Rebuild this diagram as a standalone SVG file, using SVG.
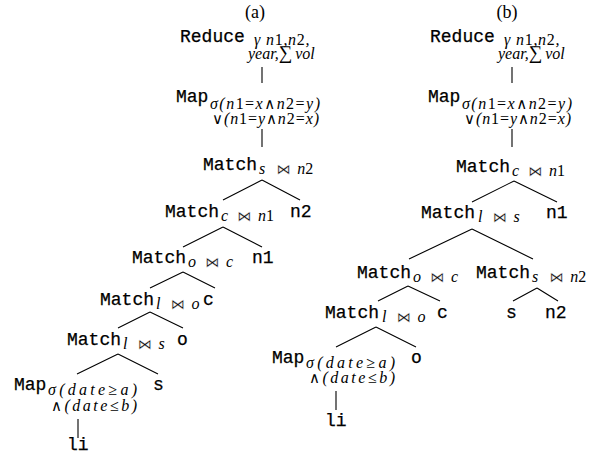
<svg xmlns="http://www.w3.org/2000/svg" width="607" height="456" viewBox="0 0 607 456">
<style>
.t{font-family:"Liberation Mono","DejaVu Sans Mono",monospace;font-size:18px;fill:#000;stroke:#000;stroke-width:0.25}
.m{font-family:"Liberation Serif","DejaVu Serif",serif;font-size:16px;font-style:italic;fill:#000}
.s1{letter-spacing:0.7px}
.u{font-style:normal}
.w{font-style:normal;font-family:"DejaVu Serif",serif;font-size:15px}
.big{font-style:normal;font-size:19px}
.r{font-style:normal;font-family:"DejaVu Sans",sans-serif;font-size:14px;stroke:#fff;stroke-width:0.3}
.lab{font-family:"Liberation Serif","DejaVu Serif",serif;font-size:18px;text-anchor:middle;fill:#000}
.e{stroke:#000;stroke-width:1.1;fill:none}
</style>
<rect width="607" height="456" fill="#fff"/>
<g id="connectors">
<path class="e" d="M262,67V83M262,129V147M262,180L223,200M262,180L300,200M223,227L183,247M223,227L262,247M183,272L150,288M183,272L215,288M150,312L118,328M150,312L183,328M118,354L77,374M118,354L158,374M78,419V438"/>
<path class="e" d="M512,67V83M512,129V147M514,181L472,202M514,181L557,202M472,229L409,259M472,229L533,259M408,286L378,301M408,286L440,301M537,288L513,301M537,288L558,301M376,327L336,347M376,327L416,347M336,391V410"/>
</g>
<g id="label-a"><text class="lab" x="255" y="18">(a)</text></g>
<g id="label-b"><text class="lab" x="507" y="18">(b)</text></g>
<g id="a-reduce">
<text class="t" x="180" y="42">Reduce</text>
<text class="m s1" x="254" y="45">γ<tspan dx="5">n</tspan><tspan class="u">1</tspan>,n<tspan class="u">2</tspan>,</text>
<text class="m" x="248" y="59">year,<tspan class="big">∑</tspan><tspan dx="3">vol</tspan></text>
</g>
<g id="a-map1">
<text class="t" x="176" y="102">Map</text>
<text class="m" x="210" y="109" textLength="110">σ(n<tspan class="u">1=</tspan>x<tspan class="w">∧</tspan>n<tspan class="u">2=</tspan>y)</text>
<text class="m" x="212" y="124" textLength="107"><tspan class="w">∨</tspan>(n<tspan class="u">1=</tspan>y<tspan class="w">∧</tspan>n<tspan class="u">2=</tspan>x)</text>
</g>
<g id="a-match-s-n2">
<text class="t" x="203" y="170">Match</text>
<text class="m" x="259" y="174">s<tspan class="r" dx="11">⋈</tspan><tspan dx="7">n</tspan><tspan class="u">2</tspan></text>
</g>
<g id="a-match-c-n1">
<text class="t" x="165" y="217">Match</text>
<text class="m" x="221" y="221">c<tspan class="r" dx="9">⋈</tspan><tspan dx="7">n</tspan><tspan class="u">1</tspan></text>
</g>
<g id="a-n2"><text class="t" x="290" y="217">n2</text></g>
<g id="a-match-o-c">
<text class="t" x="132" y="263">Match</text>
<text class="m" x="188" y="267">o<tspan class="r" dx="9">⋈</tspan><tspan dx="7">c</tspan></text>
</g>
<g id="a-n1"><text class="t" x="252" y="263">n1</text></g>
<g id="a-match-l-o">
<text class="t" x="100" y="305">Match</text>
<text class="m" x="156" y="309">l<tspan class="r" dx="10">⋈</tspan><tspan dx="7">o</tspan></text>
</g>
<g id="a-c"><text class="t" x="203" y="305">c</text></g>
<g id="a-match-l-s">
<text class="t" x="67" y="345">Match</text>
<text class="m" x="123" y="349">l<tspan class="r" dx="10">⋈</tspan><tspan dx="7">s</tspan></text>
</g>
<g id="a-o"><text class="t" x="177" y="345">o</text></g>
<g id="a-map2">
<text class="t" x="14" y="390">Map</text>
<text class="m" x="48" y="395" textLength="89">σ(date<tspan class="u">≥</tspan>a)</text>
<text class="m" x="51" y="411" textLength="86"><tspan class="w">∧</tspan>(date<tspan class="u">≤</tspan>b)</text>
</g>
<g id="a-s"><text class="t" x="153" y="390">s</text></g>
<g id="a-li"><text class="t" x="67" y="450">li</text></g>

<g id="b-reduce">
<text class="t" x="430" y="42">Reduce</text>
<text class="m s1" x="504" y="45">γ<tspan dx="5">n</tspan><tspan class="u">1</tspan>,n<tspan class="u">2</tspan>,</text>
<text class="m" x="498" y="59">year,<tspan class="big">∑</tspan><tspan dx="3">vol</tspan></text>
</g>
<g id="b-map1">
<text class="t" x="428" y="102">Map</text>
<text class="m" x="462" y="109" textLength="110">σ(n<tspan class="u">1=</tspan>x<tspan class="w">∧</tspan>n<tspan class="u">2=</tspan>y)</text>
<text class="m" x="464" y="124" textLength="107"><tspan class="w">∨</tspan>(n<tspan class="u">1=</tspan>y<tspan class="w">∧</tspan>n<tspan class="u">2=</tspan>x)</text>
</g>
<g id="b-match-c-n1">
<text class="t" x="456" y="172">Match</text>
<text class="m" x="512" y="176">c<tspan class="r" dx="9">⋈</tspan><tspan dx="7">n</tspan><tspan class="u">1</tspan></text>
</g>
<g id="b-match-l-s">
<text class="t" x="421" y="218">Match</text>
<text class="m" x="478" y="222">l<tspan class="r" dx="10">⋈</tspan><tspan dx="7">s</tspan></text>
</g>
<g id="b-n1"><text class="t" x="546" y="218">n1</text></g>
<g id="b-match-o-c">
<text class="t" x="357" y="278">Match</text>
<text class="m" x="413" y="282">o<tspan class="r" dx="9">⋈</tspan><tspan dx="7">c</tspan></text>
</g>
<g id="b-match-s-n2">
<text class="t" x="476" y="278">Match</text>
<text class="m" x="532" y="282">s<tspan class="r" dx="11">⋈</tspan><tspan dx="7">n</tspan><tspan class="u">2</tspan></text>
</g>
<g id="b-match-l-o">
<text class="t" x="325" y="318">Match</text>
<text class="m" x="382" y="322">l<tspan class="r" dx="10">⋈</tspan><tspan dx="7">o</tspan></text>
</g>
<g id="b-c"><text class="t" x="437" y="318">c</text></g>
<g id="b-s"><text class="t" x="506" y="318">s</text></g>
<g id="b-n2"><text class="t" x="545" y="318">n2</text></g>
<g id="b-map2">
<text class="t" x="272" y="363">Map</text>
<text class="m" x="306" y="368" textLength="89">σ(date<tspan class="u">≥</tspan>a)</text>
<text class="m" x="309" y="383" textLength="86"><tspan class="w">∧</tspan>(date<tspan class="u">≤</tspan>b)</text>
</g>
<g id="b-o"><text class="t" x="411" y="363">o</text></g>
<g id="b-li"><text class="t" x="325" y="426">li</text></g>
</svg>
